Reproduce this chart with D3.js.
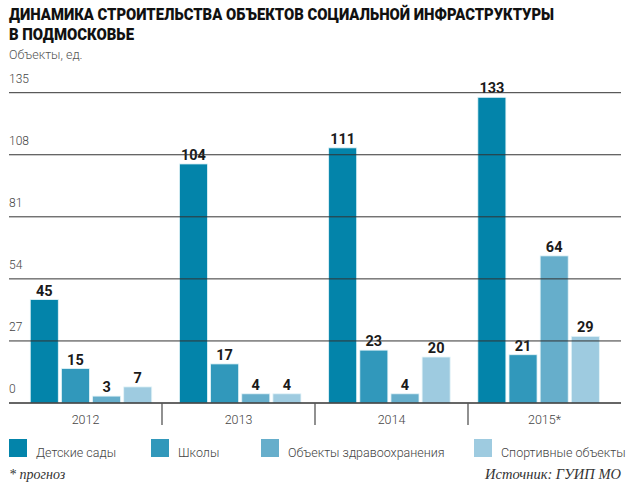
<!DOCTYPE html>
<html><head><meta charset="utf-8">
<script src="https://cdn.jsdelivr.net/npm/d3@7"></script>
<style>
body{margin:0;background:#fff;}
svg{display:block;}
</style></head>
<body>
<svg id="chart" width="639" height="487"></svg>
<script>
const years = ["2012", "2013", "2014", "2015*"];
const seriesNames = ["Детские сады", "Школы", "Объекты здравоохранения", "Спортивные объекты"];
const kindergartens = [45, 104, 111, 133];
const schools = [15, 17, 23, 21];
const health = [3, 4, 4, 64];
const sports = [7, 4, 20, 29];
const yTicks = [0, 27, 54, 81, 108, 135];
const colors = ["#0384aa", "#3198bb", "#66aecb", "#9ecbe0"];

const series = [kindergartens, schools, health, sports];
const svg = d3.select("#chart");

// title
svg.append("text").attr("x", 9).attr("y", 20)
  .attr("font-family", "Roboto, sans-serif").attr("font-weight", 900).attr("font-size", 16)
  .attr("fill", "#111").attr("textLength", 545).attr("lengthAdjust", "spacingAndGlyphs")
  .text("ДИНАМИКА СТРОИТЕЛЬСТВА ОБЪЕКТОВ СОЦИАЛЬНОЙ ИНФРАСТРУКТУРЫ");
svg.append("text").attr("x", 9).attr("y", 40)
  .attr("font-family", "Roboto, sans-serif").attr("font-weight", 900).attr("font-size", 16)
  .attr("fill", "#111").attr("textLength", 125).attr("lengthAdjust", "spacingAndGlyphs")
  .text("В ПОДМОСКОВЬЕ");
svg.append("text").attr("x", 9).attr("y", 59)
  .attr("font-family", "Roboto, sans-serif").attr("font-weight", 300).attr("font-size", 12.5)
  .attr("fill", "#555").text("Объекты, ед.");

const y = d3.scaleLinear().domain([0, 135]).range([403, 92.7]);
const xSep = d3.scaleBand().domain(years).range([9, 621]);
const xGroup = d3.scaleBand().domain(years).range([16.4, 613.2]);
const xInner = d3.scaleBand().domain(d3.range(4)).range([0, 121.5]).paddingInner(0.1);

const groupOffset = (xGroup.bandwidth() - 121.5) / 2;

// bars
const g = svg.append("g");
years.forEach((yr, i) => {
  const gg = g.append("g").attr("transform", `translate(${xGroup(yr) + groupOffset},0)`);
  series.forEach((s, k) => {
    gg.append("rect")
      .attr("x", xInner(k)).attr("width", xInner.bandwidth())
      .attr("y", y(s[i])).attr("height", y(0) - y(s[i]))
      .attr("fill", colors[k]).attr("stroke", "#e4f4f8").attr("stroke-width", 0.8);
    gg.append("text")
      .attr("x", xInner(k) + xInner.bandwidth() / 2).attr("y", y(s[i]) - 4)
      .attr("text-anchor", "middle")
      .attr("font-family", "Roboto, sans-serif").attr("font-weight", 700).attr("font-size", 14.5)
      .attr("fill", "#1a1a1a").text(s[i]);
  });
});

// gridlines (on top of bars)
const grid = svg.append("g");
yTicks.forEach(t => {
  grid.append("line").attr("x1", 9).attr("x2", 621)
    .attr("y1", y(t)).attr("y2", y(t))
    .attr("stroke", "#333").attr("stroke-width", t === 0 ? 1.3 : 1);
  grid.append("text").attr("x", 9).attr("y", y(t) - 10)
    .attr("font-family", "Roboto, sans-serif").attr("font-weight", 300).attr("font-size", 12)
    .attr("fill", "#444").text(t);
});

// separators and year labels
years.forEach((yr, i) => {
  if (i > 0) {
    svg.append("line").attr("x1", xSep(yr)).attr("x2", xSep(yr))
      .attr("y1", y(0)).attr("y2", y(0) + 22)
      .attr("stroke", "#555").attr("stroke-width", 1.3);
  }
  svg.append("text").attr("x", xSep(yr) + xSep.bandwidth() / 2).attr("y", 424)
    .attr("text-anchor", "middle")
    .attr("font-family", "Roboto, sans-serif").attr("font-weight", 300).attr("font-size", 12.5)
    .attr("fill", "#444").text(yr);
});

// legend
const legendX = [9, 151, 261, 474];
seriesNames.forEach((n, k) => {
  svg.append("rect").attr("x", legendX[k]).attr("y", 439).attr("width", 18).attr("height", 18)
    .attr("fill", colors[k]);
  svg.append("text").attr("x", legendX[k] + 27).attr("y", 457)
    .attr("font-family", "Roboto, sans-serif").attr("font-weight", 300).attr("font-size", 12.5)
    .attr("fill", "#444").text(n);
});

svg.append("text").attr("x", 9).attr("y", 479)
  .attr("font-family", "'Liberation Serif', serif").attr("font-style", "italic").attr("font-size", 14)
  .attr("fill", "#333").text("* прогноз");
svg.append("text").attr("x", 621).attr("y", 479).attr("text-anchor", "end")
  .attr("font-family", "'Liberation Serif', serif").attr("font-style", "italic").attr("font-size", 14.5)
  .attr("fill", "#333").text("Источник: ГУИП МО");
</script>
</body></html>
